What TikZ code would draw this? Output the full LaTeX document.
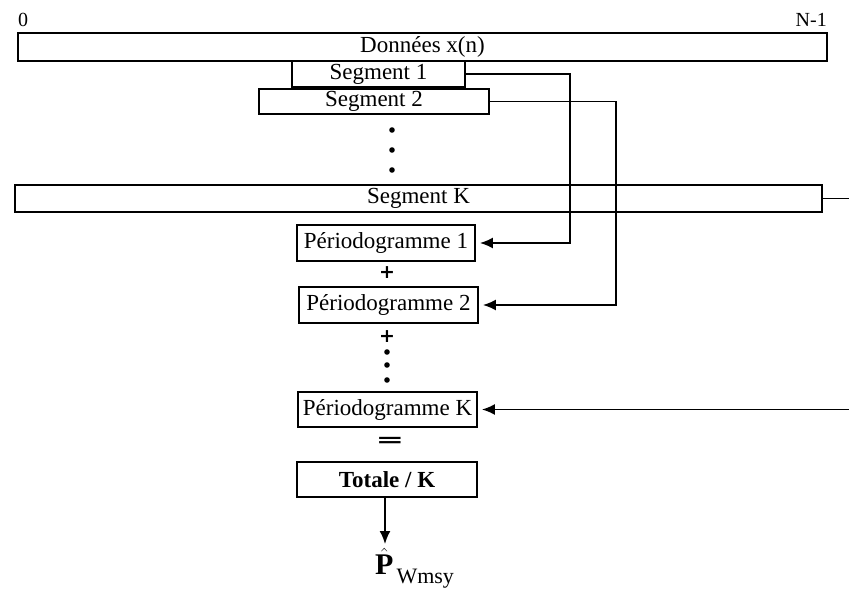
\documentclass[tikz,border=0pt]{standalone}
\usepackage{fontspec}
\setmainfont{Liberation Serif}
\newfontfamily\symfont{DejaVu Sans}
\usepackage{graphicx}
\usepackage{tikz}
\usetikzlibrary{arrows.meta,calc,positioning}

\tikzset{
  blk/.style={draw,line width=1.8pt,inner sep=0pt,font=\fontsize{23}{26}\selectfont},
  op/.style={inner sep=0pt,font=\symfont\bfseries\fontsize{19}{19}\selectfont},
  lnk/.style={line width=1.8pt,-{Latex[length=13pt,width=11pt]},shorten >=4pt},
}

\begin{document}
\begin{tikzpicture}[x=1pt,y=-1pt]
  \useasboundingbox (0,0) rectangle (849,596);
  \node[anchor=base west,font=\fontsize{20}{22}\selectfont,inner sep=0pt] (n0) at (18,27) {0};
  \node[anchor=base east,font=\fontsize{20}{22}\selectfont,inner sep=0pt] (nN) at (827,27) {N-1};
  \node[blk,minimum width=809pt,minimum height=28pt] (don) at (422.5,47) {Données x(n)};
  \node[blk,minimum width=173pt,minimum height=26pt] (seg1) at (378.5,74) {Segment 1};
  \node[blk,minimum width=230pt,minimum height=25pt] (seg2) at (374,101.5) {Segment 2};
  \node[blk,minimum width=807pt,minimum height=27pt] (segK) at (418.5,198.5) {Segment K};
  \foreach \y in {130,150,170} {\fill (392,\y) circle (2.8);}
  \node[blk,minimum width=178pt,minimum height=36pt] (per1) at (386,243) {Périodogramme 1};
  \node[op] (pl1) at (387,273) {+};
  \node[blk,minimum width=179pt,minimum height=36pt] (per2) at (388.5,305) {Périodogramme 2};
  \node[op] (pl2) at (387,337) {+};
  \foreach \y in {352,365,380} {\fill (387,\y) circle (2.8);}
  \node[blk,minimum width=179pt,minimum height=35pt] (perK) at (387.5,409.5) {Périodogramme K};
  \node[op] (eq) at (390,442) {\scalebox{1.8}[1]{=}};
  \node[blk,minimum width=180pt,minimum height=35pt,font=\fontsize{23}{26}\selectfont\bfseries] (tot) at (387,479.5) {Totale / K};
  \node[anchor=north west,inner sep=0pt] (phat) at (375,548) {\fontsize{30}{30}\selectfont$\hat{\mathbf{P}}$\kern3pt\raisebox{-9pt}{\fontsize{22}{24}\selectfont Wmsy}};
  % liaisons
  \draw[lnk] (seg1.east) -- ++(104,0) |- (per1.east);
  \draw[lnk] (seg2.east) -- ++(126,0) |- (per2.east);
  \draw[lnk] (segK.east) -- ++(40,0) |- (perK.east);
  \draw[lnk,shorten >=4pt] ([xshift=-2pt]tot.south) -- ([xshift=-2pt]tot.south |- phat.north);
\end{tikzpicture}
\end{document}
